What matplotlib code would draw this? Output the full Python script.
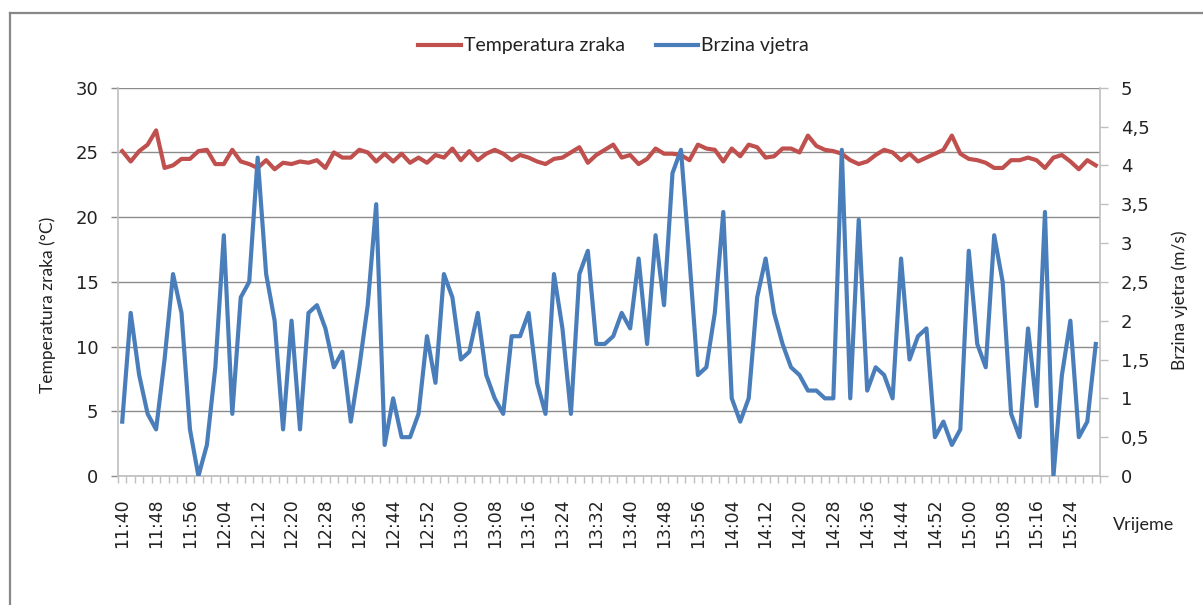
import matplotlib
matplotlib.use("Agg")
import matplotlib.pyplot as plt
from matplotlib.lines import Line2D
from matplotlib.ticker import FuncFormatter
import pandas as pd

# Measurement times: every 2 minutes from 11:40
times = pd.date_range("2000-01-01 11:40", periods=116, freq="2min")
time_labels = [t.strftime("%H:%M") for t in times]

# Air temperature (°C)
temperatura = [
    25.1, 24.3, 25.1, 25.6, 26.7, 23.8, 24.0, 24.5, 24.5, 25.1,
    25.2, 24.1, 24.1, 25.2, 24.3, 24.1, 23.8, 24.4, 23.7, 24.2,
    24.1, 24.3, 24.2, 24.4, 23.8, 25.0, 24.6, 24.6, 25.2, 25.0,
    24.3, 24.9, 24.3, 24.9, 24.2, 24.6, 24.2, 24.8, 24.6, 25.3,
    24.4, 25.1, 24.4, 24.9, 25.2, 24.9, 24.4, 24.8, 24.6, 24.3,
    24.1, 24.5, 24.6, 25.0, 25.4, 24.2, 24.8, 25.2, 25.6, 24.6,
    24.8, 24.1, 24.5, 25.3, 24.9, 24.9, 24.8, 24.4, 25.6, 25.3,
    25.2, 24.3, 25.3, 24.7, 25.6, 25.4, 24.6, 24.7, 25.3, 25.3,
    25.0, 26.3, 25.5, 25.2, 25.1, 24.9, 24.4, 24.1, 24.3, 24.8,
    25.2, 25.0, 24.4, 24.9, 24.3, 24.6, 24.9, 25.2, 26.3, 24.9,
    24.5, 24.4, 24.2, 23.8, 23.8, 24.4, 24.4, 24.6, 24.4, 23.8,
    24.6, 24.8, 24.3, 23.7, 24.4, 24.0,
]

# Wind speed (m/s)
brzina = [
    0.7, 2.1, 1.3, 0.8, 0.6, 1.5, 2.6, 2.1, 0.6, 0.0,
    0.4, 1.4, 3.1, 0.8, 2.3, 2.5, 4.1, 2.6, 2.0, 0.6,
    2.0, 0.6, 2.1, 2.2, 1.9, 1.4, 1.6, 0.7, 1.4, 2.2,
    3.5, 0.4, 1.0, 0.5, 0.5, 0.8, 1.8, 1.2, 2.6, 2.3,
    1.5, 1.6, 2.1, 1.3, 1.0, 0.8, 1.8, 1.8, 2.1, 1.2,
    0.8, 2.6, 1.9, 0.8, 2.6, 2.9, 1.7, 1.7, 1.8, 2.1,
    1.9, 2.8, 1.7, 3.1, 2.2, 3.9, 4.2, 2.8, 1.3, 1.4,
    2.1, 3.4, 1.0, 0.7, 1.0, 2.3, 2.8, 2.1, 1.7, 1.4,
    1.3, 1.1, 1.1, 1.0, 1.0, 4.2, 1.0, 3.3, 1.1, 1.4,
    1.3, 1.0, 2.8, 1.5, 1.8, 1.9, 0.5, 0.7, 0.4, 0.6,
    2.9, 1.7, 1.4, 3.1, 2.5, 0.8, 0.5, 1.9, 0.9, 3.4,
    0.0, 1.3, 2.0, 0.5, 0.7, 1.7,
]

RED = "#C0504D"
BLUE = "#4A7EBB"
GRID = "#8C8C8C"
AXIS = "#BFBFBF"
TXT = "#222222"

W, H = 1203, 605
fig = plt.figure(figsize=(W / 100, H / 100), dpi=100)
fig.patch.set_facecolor("white")

# chart-area frame (left and top edges)
fig.add_artist(Line2D([10 / W, 10 / W], [0, 1 - 13 / H], transform=fig.transFigure,
                      color="#888888", lw=1.6))
fig.add_artist(Line2D([10 / W, 1], [1 - 13 / H, 1 - 13 / H], transform=fig.transFigure,
                      color="#888888", lw=1.6))

left, right = 118 / W, 1100 / W
bottom, top = 1 - 476 / H, 1 - 87.7 / H
ax = fig.add_axes([left, bottom, right - left, top - bottom])
ax2 = ax.twinx()

x = list(range(len(times)))
ax.plot(x, temperatura, color=RED, lw=3.0, solid_joinstyle="round", zorder=3)
ax2.plot(x, brzina, color=BLUE, lw=3.0, solid_joinstyle="round", zorder=3)

n = len(times)
ax.set_xlim(-0.5, n - 0.5)
ax.set_ylim(0, 30)
ax2.set_ylim(0, 5)

# y axes
ax.set_yticks(range(0, 31, 5))
ax2.set_yticks([i * 0.5 for i in range(11)])
ax2.yaxis.set_major_formatter(FuncFormatter(
    lambda v, p: (f"{v:g}").replace(".", ",")))
ax.yaxis.grid(True, color=GRID, lw=1.0)
ax.set_axisbelow(True)

for a in (ax, ax2):
    for s in a.spines.values():
        s.set_visible(False)
ax.spines["left"].set_visible(True)
ax.spines["left"].set_color(AXIS)
ax.spines["left"].set_linewidth(1.2)
ax.spines["bottom"].set_visible(True)
ax.spines["bottom"].set_color(AXIS)
ax.spines["bottom"].set_linewidth(1.2)
ax2.spines["right"].set_visible(True)
ax2.spines["right"].set_color(AXIS)
ax2.spines["right"].set_linewidth(1.2)

ax.tick_params(axis="y", length=5, width=1.0, color=GRID, direction="out",
               labelsize=13, labelcolor=TXT, pad=9)
ax2.tick_params(axis="y", length=6, width=1.0, color=AXIS, direction="out",
                labelsize=13, labelcolor=TXT, pad=9)

# x axis: ticks at category boundaries, labels every 4th category
label_pos = list(range(0, n, 4))
ax.set_xticks(label_pos)
ax.set_xticklabels([time_labels[i] for i in label_pos], rotation=90)
ax.set_xticks([i - 0.5 for i in range(n + 1)], minor=True)
ax.tick_params(axis="x", which="major", length=0, labelsize=12.5,
               labelcolor=TXT, pad=16)
ax.tick_params(axis="x", which="minor", length=5, width=1.0, color=AXIS,
               direction="out")

# axis titles
fig.text(48 / W, 1 - 305 / H, "Temperatura zraka (°C)", rotation=90,
         ha="center", va="center", fontsize=12.5, family="Lato", color=TXT)
fig.text(1180 / W, 1 - 300 / H, "Brzina vjetra (m/s)", rotation=90,
         ha="center", va="center", fontsize=12.5, family="Lato", color=TXT)
fig.text(1144 / W, 1 - 525 / H, "Vrijeme", ha="center", va="center",
         fontsize=13, family="Lato", color=TXT)

# legend
handles = [Line2D([], [], color=RED, lw=3.0), Line2D([], [], color=BLUE, lw=3.0)]
fig.legend(handles, ["Temperatura zraka", "Brzina vjetra"], loc="center",
           bbox_to_anchor=(0.51, 1 - 46 / H), ncol=2, frameon=False,
           prop={"family": "Lato", "size": 14}, handlelength=2.2,
           handletextpad=0.15, columnspacing=1.6, labelcolor=TXT)

fig.savefig("out.png", dpi=100, facecolor="white")
